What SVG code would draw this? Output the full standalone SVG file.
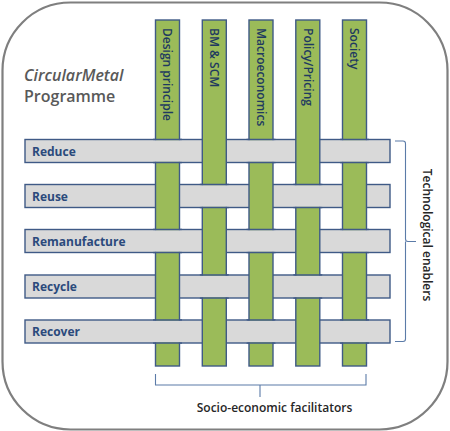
<svg xmlns="http://www.w3.org/2000/svg" width="450" height="431" viewBox="0 0 450 431">
<style>
.frame{fill:#fff;stroke:#7f7f7f;stroke-width:2.2}
.h{fill:#d9d9d9;stroke:#3f5a86;stroke-width:1.4}
.v{fill:#9bbb59;stroke:#3f5a86;stroke-width:1.4}
.pf{fill:#d9d9d9;stroke:none}
.pl{fill:none;stroke:#3f5a86;stroke-width:1.4}
.hl{font-family:"Open Sans","Liberation Sans",sans-serif;font-weight:700;font-size:12px;fill:#2b4a7c}
.vl{font-family:"Open Sans","Liberation Sans",sans-serif;font-weight:600;font-size:12px;fill:#1f3a60}
.title{font-family:"Open Sans","Liberation Sans",sans-serif;font-weight:600;font-size:16px;fill:#595959}
.cap{font-family:"Open Sans","Liberation Sans",sans-serif;font-weight:600;font-size:12px;fill:#262626}
.br{fill:none;stroke:#5b7ba8;stroke-width:1.1}
</style>
<rect class="frame" x="2.5" y="2.5" width="445" height="427" rx="68" ry="68"/>
<g id="title">
<text class="title" x="24" y="81" font-style="italic">CircularMetal</text>
<text class="title" x="24" y="102">Programme</text>
</g>
<g id="rows">
<g id="reduce"><rect class="h" x="25" y="139.5" width="365" height="23"/><text class="hl" x="32" y="155.5">Reduce</text></g>
<g id="reuse"><rect class="h" x="25" y="184.5" width="365" height="23"/><text class="hl" x="32" y="200.5">Reuse</text></g>
<g id="remanufacture"><rect class="h" x="25" y="229.5" width="365" height="23"/><text class="hl" x="32" y="245.5">Remanufacture</text></g>
<g id="recycle"><rect class="h" x="25" y="275" width="365" height="23"/><text class="hl" x="32" y="291">Recycle</text></g>
<g id="recover"><rect class="h" x="25" y="320" width="365" height="23"/><text class="hl" x="32" y="336">Recover</text></g>
</g>
<g id="columns">
<g id="design"><rect class="v" x="155.5" y="20" width="24" height="346"/><text class="vl" transform="translate(163,28) rotate(90)">Design principle</text></g>
<g id="bmscm"><rect class="v" x="202.3" y="20" width="24" height="346"/><text class="vl" transform="translate(210,28) rotate(90)">BM &amp; SCM</text></g>
<g id="macro"><rect class="v" x="249" y="20" width="24" height="346"/><text class="vl" transform="translate(256.5,28) rotate(90)">Macroeconomics</text></g>
<g id="policy"><rect class="v" x="295.8" y="20" width="24" height="346"/><text class="vl" transform="translate(303.5,28) rotate(90)">Policy/Pricing</text></g>
<g id="society"><rect class="v" x="342.5" y="20" width="24" height="346"/><text class="vl" transform="translate(350,28) rotate(90)">Society</text></g>
</g>
<g id="weave">
<!-- row 1 over columns 1,3,5 -->
<rect class="pf" x="153" y="140.2" width="29" height="21.6"/><path class="pl" d="M153 139.5H182M153 162.5H182"/>
<rect class="pf" x="246.5" y="140.2" width="29" height="21.6"/><path class="pl" d="M246.5 139.5H275.5M246.5 162.5H275.5"/>
<rect class="pf" x="340" y="140.2" width="29" height="21.6"/><path class="pl" d="M340 139.5H369M340 162.5H369"/>
<!-- row 2 over columns 2,4 -->
<rect class="pf" x="199.8" y="185.2" width="29" height="21.6"/><path class="pl" d="M199.8 184.5H228.8M199.8 207.5H228.8"/>
<rect class="pf" x="293.3" y="185.2" width="29" height="21.6"/><path class="pl" d="M293.3 184.5H322.3M293.3 207.5H322.3"/>
<!-- row 3 -->
<rect class="pf" x="153" y="230.2" width="29" height="21.6"/><path class="pl" d="M153 229.5H182M153 252.5H182"/>
<rect class="pf" x="246.5" y="230.2" width="29" height="21.6"/><path class="pl" d="M246.5 229.5H275.5M246.5 252.5H275.5"/>
<rect class="pf" x="340" y="230.2" width="29" height="21.6"/><path class="pl" d="M340 229.5H369M340 252.5H369"/>
<!-- row 4 -->
<rect class="pf" x="199.8" y="275.7" width="29" height="21.6"/><path class="pl" d="M199.8 275H228.8M199.8 298H228.8"/>
<rect class="pf" x="293.3" y="275.7" width="29" height="21.6"/><path class="pl" d="M293.3 275H322.3M293.3 298H322.3"/>
<!-- row 5 -->
<rect class="pf" x="153" y="320.7" width="29" height="21.6"/><path class="pl" d="M153 320H182M153 343H182"/>
<rect class="pf" x="246.5" y="320.7" width="29" height="21.6"/><path class="pl" d="M246.5 320H275.5M246.5 343H275.5"/>
<rect class="pf" x="340" y="320.7" width="29" height="21.6"/><path class="pl" d="M340 320H369M340 343H369"/>
</g>
<g id="connectors">
<path class="br" d="M395 141H403Q405.5 141 405.5 143.5V239Q405.5 241.5 408 241.5H416M405.5 241.5V339Q405.5 341.5 403 341.5H395"/>
<path class="br" d="M155.5 374V385H366V374M260 385V397"/>
</g>
<g id="labels">
<text class="cap" transform="translate(422.5,235) rotate(90)" text-anchor="middle">Technological enablers</text>
<text class="cap" x="274.5" y="412" text-anchor="middle">Socio-economic facilitators</text>
</g>
</svg>
